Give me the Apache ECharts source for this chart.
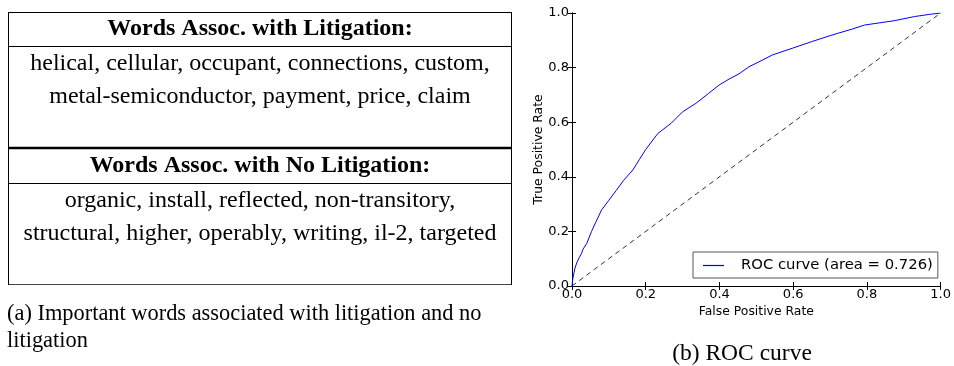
<!DOCTYPE html>
<html>
<head>
<meta charset="utf-8">
<script src="https://cdn.jsdelivr.net/npm/echarts@6/dist/echarts.min.js"></script>
<style>
  html, body { margin: 0; padding: 0; background: #fff; }
  #chart { width: 954px; height: 366px; }
</style>
</head>
<body>
<div id="chart"></div>
<script>
// ROC curve points (false positive rate, true positive rate)
const fpr = [0, 0.002, 0.004, 0.008, 0.013, 0.02, 0.026, 0.03, 0.04, 0.053, 0.065, 0.08, 0.1, 0.12, 0.14, 0.165, 0.183, 0.2, 0.233, 0.269, 0.3, 0.336, 0.37, 0.399, 0.426, 0.453, 0.48, 0.51, 0.543, 0.6, 0.65, 0.7, 0.722, 0.76, 0.794, 0.835, 0.875, 0.929, 0.97, 1.0];
const tpr = [0, 0.025, 0.04, 0.065, 0.085, 0.105, 0.12, 0.135, 0.156, 0.2, 0.235, 0.278, 0.314, 0.35, 0.387, 0.425, 0.464, 0.5, 0.559, 0.596, 0.638, 0.669, 0.705, 0.736, 0.758, 0.777, 0.803, 0.823, 0.846, 0.872, 0.895, 0.917, 0.926, 0.941, 0.956, 0.964, 0.972, 0.987, 0.995, 1.0];
const chanceLine = [[0, 0], [1, 1]];
const rocName = 'ROC curve (area = 0.726)';

// word table contents
const litigationTitle = 'Words Assoc. with Litigation:';
const litigationWords = ['helical, cellular, occupant, connections, custom,', 'metal-semiconductor, payment, price, claim'];
const noLitigationTitle = 'Words Assoc. with No Litigation:';
const noLitigationWords = ['organic, install, reflected, non-transitory,', 'structural, higher, operably, writing, il-2, targeted'];
const captionA = ['(a) Important words associated with litigation and no', 'litigation'];
const captionB = '(b) ROC curve';

const serif = '"Liberation Serif", "DejaVu Serif", serif';
const sans = '"DejaVu Sans", sans-serif';

function hline(y, x1, x2, w, color) {
  return { type: 'line', shape: { x1: x1, y1: y, x2: x2, y2: y }, style: { stroke: color || '#000', lineWidth: w || 1 } };
}
function vline(x, y1, y2, w) {
  return { type: 'line', shape: { x1: x, y1: y1, x2: x, y2: y2 }, style: { stroke: '#000', lineWidth: w || 1 } };
}
function txt(s, x, y, opts) {
  return {
    type: 'text', x: x, y: y,
    style: Object.assign({ text: s, fill: '#000', fontFamily: serif, fontSize: 24, align: 'center', verticalAlign: 'middle' }, opts || {})
  };
}

const TL = 8.5, TR = 511.5, TC = (TL + TR) / 2;
const tableGraphics = [
  hline(12.5, TL, TR),
  hline(46.5, TL, TR),
  hline(148, TL, TR, 2.5),
  hline(183.5, TL, TR),
  hline(284.5, TL, TR, 1, '#444'),
  vline(TL, 12, 285),
  vline(TR, 12, 285),
  txt(litigationTitle, TC, 29, { fontWeight: 'bold' }),
  txt(litigationWords[0], TC, 64),
  txt(litigationWords[1], TC, 97),
  txt(noLitigationTitle, TC, 166, { fontWeight: 'bold' }),
  txt(noLitigationWords[0], TC, 201),
  txt(noLitigationWords[1], TC, 234),
  txt(captionA[0], 7, 314, { align: 'left', fontSize: 22.4 }),
  txt(captionA[1], 7, 341, { align: 'left', fontSize: 22.4 }),
  txt(captionB, 742, 354, { fontSize: 23.5 })
];

const tickLabel = { fontFamily: sans, fontSize: 13, color: '#000' };
const frameLine = { show: true, lineStyle: { color: '#000', width: 1 } };
const innerTick = { show: true, inside: true, length: 4, lineStyle: { color: '#000', width: 1 } };

const chart = echarts.init(document.getElementById('chart'), null, { renderer: 'canvas' });
chart.setOption({
  animation: false,
  backgroundColor: '#fff',
  grid: { left: 572, top: 13, width: 371, height: 273 },
  xAxis: [
    {
      type: 'value', min: 0, max: 1, interval: 0.2, position: 'bottom',
      axisLine: frameLine, axisTick: innerTick, splitLine: { show: false },
      axisLabel: Object.assign({ margin: 2, formatter: v => v.toFixed(1), showMinLabel: true, showMaxLabel: true }, tickLabel),
      name: 'False Positive Rate', nameLocation: 'middle', nameGap: 17,
      nameTextStyle: { fontFamily: sans, fontSize: 12.4, color: '#000', verticalAlign: 'top' }
    },
    {
      type: 'value', min: 0, max: 1, interval: 0.2, position: 'top',
      axisLine: frameLine, axisTick: innerTick, splitLine: { show: false }, axisLabel: { show: false }
    }
  ],
  yAxis: [
    {
      type: 'value', min: 0, max: 1, interval: 0.2, position: 'left',
      axisLine: frameLine, axisTick: innerTick, splitLine: { show: false },
      axisLabel: Object.assign({ margin: 3, formatter: v => v.toFixed(1), showMinLabel: true, showMaxLabel: true }, tickLabel),
      name: 'True Positive Rate', nameLocation: 'middle', nameGap: 23, nameRotate: 90,
      nameTextStyle: { fontFamily: sans, fontSize: 12.4, color: '#000' }
    },
    {
      type: 'value', min: 0, max: 1, interval: 0.2, position: 'right',
      axisLine: frameLine, axisTick: innerTick, splitLine: { show: false }, axisLabel: { show: false }
    }
  ],
  legend: {
    data: [{ name: rocName, icon: 'rect', itemStyle: { color: '#0000ff', borderWidth: 0 } }],
    left: 693, top: 252,
    padding: [6, 5, 5, 10],
    itemWidth: 21, itemHeight: 1.2,
    borderColor: '#555', borderWidth: 1, borderRadius: 0,
    backgroundColor: '#fff',
    textStyle: { fontFamily: sans, fontSize: 14.8, color: '#000', padding: [0, 0, 0, 12] },
    selectedMode: false
  },
  series: [
    {
      name: rocName, type: 'line', xAxisIndex: 0, yAxisIndex: 0,
      data: fpr.map((x, i) => [x, tpr[i]]),
      symbol: 'none', showSymbol: false, smooth: false,
      lineStyle: { color: '#0000ff', width: 1 }, itemStyle: { color: '#0000ff' },
      z: 3
    },
    {
      name: 'chance', type: 'line', xAxisIndex: 0, yAxisIndex: 0,
      data: chanceLine, symbol: 'none', showSymbol: false,
      lineStyle: { color: '#333', width: 1, type: [5, 4] },
      z: 2
    }
  ],
  graphic: tableGraphics
});
</script>
</body>
</html>
